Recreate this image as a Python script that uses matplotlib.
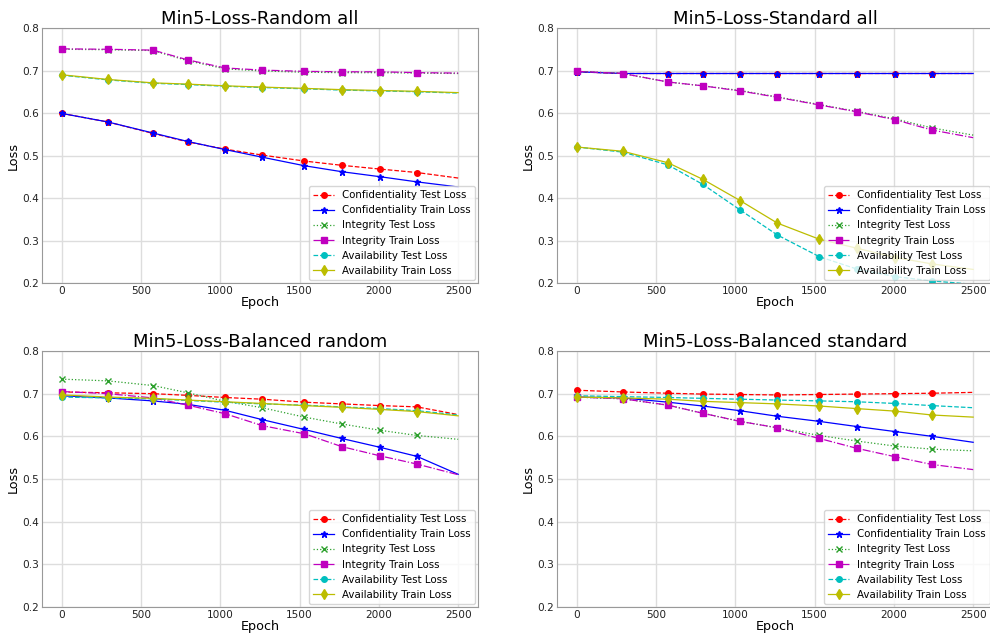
import matplotlib
matplotlib.use("Agg")
import matplotlib.pyplot as plt

# epochs at which the loss values were read (markers sit on the first ten)
epochs = [0, 290, 575, 795, 1030, 1265, 1530, 1765, 2010, 2240, 2500]

titles = ["Min5-Loss-Random all", "Min5-Loss-Standard all",
          "Min5-Loss-Balanced random", "Min5-Loss-Balanced standard"]

labels = ["Confidentiality Test Loss", "Confidentiality Train Loss",
          "Integrity Test Loss", "Integrity Train Loss",
          "Availability Test Loss", "Availability Train Loss"]

# Min5-Loss-Random all
ra_conf_test = [0.599, 0.579, 0.552, 0.532, 0.515, 0.501, 0.487, 0.477, 0.468, 0.460, 0.447]
ra_conf_train = [0.599, 0.579, 0.553, 0.533, 0.514, 0.496, 0.476, 0.462, 0.450, 0.438, 0.426]
ra_int_test = [0.750, 0.749, 0.747, 0.723, 0.704, 0.699, 0.696, 0.695, 0.695, 0.694, 0.693]
ra_int_train = [0.751, 0.750, 0.748, 0.725, 0.706, 0.701, 0.698, 0.697, 0.697, 0.695, 0.694]
ra_av_test = [0.689, 0.678, 0.670, 0.667, 0.663, 0.660, 0.657, 0.654, 0.652, 0.650, 0.647]
ra_av_train = [0.690, 0.679, 0.671, 0.668, 0.664, 0.661, 0.658, 0.655, 0.653, 0.651, 0.648]

# Min5-Loss-Standard all
sa_conf_test = [0.697, 0.693, 0.693, 0.693, 0.693, 0.693, 0.693, 0.693, 0.693, 0.693, 0.693]
sa_conf_train = [0.697, 0.693, 0.693, 0.693, 0.693, 0.693, 0.693, 0.693, 0.693, 0.693, 0.693]
sa_int_test = [0.698, 0.693, 0.673, 0.664, 0.653, 0.638, 0.620, 0.604, 0.586, 0.565, 0.548]
sa_int_train = [0.698, 0.693, 0.673, 0.664, 0.652, 0.637, 0.619, 0.603, 0.584, 0.560, 0.542]
sa_av_test = [0.520, 0.508, 0.478, 0.432, 0.372, 0.313, 0.262, 0.233, 0.215, 0.205, 0.197]
sa_av_train = [0.520, 0.510, 0.483, 0.444, 0.394, 0.341, 0.303, 0.282, 0.260, 0.245, 0.232]

# Min5-Loss-Balanced random
br_conf_test = [0.704, 0.702, 0.700, 0.696, 0.691, 0.687, 0.680, 0.676, 0.672, 0.669, 0.651]
br_conf_train = [0.695, 0.690, 0.683, 0.675, 0.661, 0.639, 0.616, 0.595, 0.574, 0.553, 0.511]
br_int_test = [0.734, 0.730, 0.719, 0.702, 0.682, 0.667, 0.645, 0.629, 0.614, 0.602, 0.593]
br_int_train = [0.705, 0.700, 0.690, 0.673, 0.653, 0.625, 0.606, 0.576, 0.554, 0.535, 0.510]
br_av_test = [0.692, 0.690, 0.688, 0.684, 0.680, 0.676, 0.673, 0.669, 0.665, 0.660, 0.650]
br_av_train = [0.697, 0.692, 0.689, 0.685, 0.681, 0.677, 0.672, 0.668, 0.663, 0.658, 0.648]

# Min5-Loss-Balanced standard
bs_conf_test = [0.708, 0.704, 0.701, 0.699, 0.698, 0.697, 0.698, 0.699, 0.700, 0.701, 0.703]
bs_conf_train = [0.692, 0.690, 0.680, 0.671, 0.660, 0.647, 0.635, 0.623, 0.611, 0.600, 0.586]
bs_int_test = [0.692, 0.688, 0.673, 0.654, 0.635, 0.620, 0.602, 0.589, 0.577, 0.570, 0.566]
bs_int_train = [0.692, 0.688, 0.673, 0.654, 0.635, 0.620, 0.595, 0.572, 0.552, 0.534, 0.522]
bs_av_test = [0.695, 0.693, 0.691, 0.689, 0.687, 0.685, 0.683, 0.681, 0.677, 0.672, 0.667]
bs_av_train = [0.692, 0.690, 0.687, 0.682, 0.679, 0.676, 0.671, 0.665, 0.659, 0.650, 0.645]

panels = [
    [ra_conf_test, ra_conf_train, ra_int_test, ra_int_train, ra_av_test, ra_av_train],
    [sa_conf_test, sa_conf_train, sa_int_test, sa_int_train, sa_av_test, sa_av_train],
    [br_conf_test, br_conf_train, br_int_test, br_int_train, br_av_test, br_av_train],
    [bs_conf_test, bs_conf_train, bs_int_test, bs_int_train, bs_av_test, bs_av_train],
]

styles = [("r", "o", "--", 4), ("b", "*", "-", 5), ("tab:green", "x", ":", 4.5),
          ("m", "s", "-.", 4.5), ("c", "o", "--", 4), ("y", "d", "-", 5)]
styles[2] = ("#2ca02c", "x", ":", 4.5)
styles[5] = ("#bcbd00", "d", "-", 5)

plt.rcParams["axes.edgecolor"] = "#999999"
plt.rcParams["xtick.major.size"] = 0
plt.rcParams["ytick.major.size"] = 0
plt.rcParams["xtick.color"] = "#222222"
plt.rcParams["ytick.color"] = "#222222"

fig = plt.figure(figsize=(9.9, 6.37), dpi=100)
positions = [[0.0424, 0.5557, 0.4404, 0.4003], [0.5626, 0.5557, 0.4404, 0.4003],
             [0.0424, 0.0471, 0.4404, 0.4019], [0.5626, 0.0471, 0.4404, 0.4019]]

for pos, title, series in zip(positions, titles, panels):
    ax = fig.add_axes(pos)
    for vals, lab, (c, mk, ls, ms) in zip(series, labels, styles):
        ax.plot(epochs, vals, color=c, marker=mk, linestyle=ls, markersize=ms,
                linewidth=0.9, markevery=list(range(10)), label=lab)
    ax.set_ylim(0.2, 0.8)
    ax.set_xticks([0, 500, 1000, 1500, 2000, 2500])
    ax.grid(True, color="#dddddd", linewidth=1)
    ax.set_axisbelow(True)
    ax.tick_params(labelsize=7.6, pad=2)
    ax.set_title(title, fontsize=13, pad=3)
    ax.set_xlabel("Epoch", fontsize=9.2, labelpad=0)
    ax.set_ylabel("Loss", fontsize=9.2, labelpad=2)
    ax.legend(loc="lower right", fontsize=7.4, borderaxespad=0.3)

fig.savefig("out.png", dpi=100)
